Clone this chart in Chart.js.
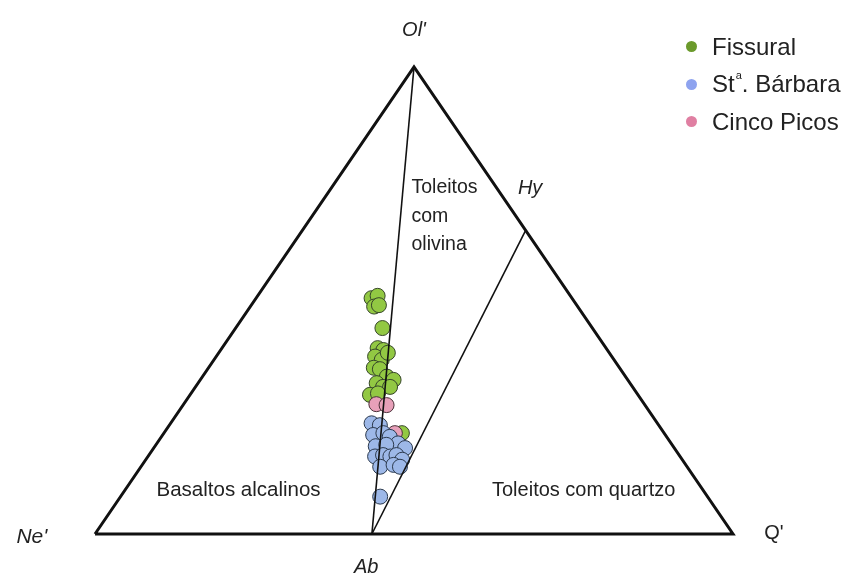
<!DOCTYPE html>
<html lang="pt">
<head>
    <meta charset="UTF-8">
    <title>Diagrama Ne'-Ol'-Q'</title>
    <style>
        body {
            margin: 0;
            background-color: #ffffff;
            font-family: "Liberation Sans", Arial, sans-serif;
        }
        .wrap {
            position: relative;
            width: 850px;
            height: 579px;
        }
        .legend {
            position: absolute;
            left: 686px;
            top: 28px;
            color: #222;
            font-size: 24px;
        }
        .legend div {
            display: flex;
            align-items: center;
            height: 37.5px;
        }
        .legend div span {
            width: 11px;
            height: 11px;
            border-radius: 50%;
            display: inline-block;
            margin-right: 15px;
        }
        .legend sup {
            font-size: 11px;
            position: relative;
            top: -9px;
            margin-left: 1px;
        }
    </style>
    <script src="https://cdn.jsdelivr.net/npm/chart.js"></script>
    <script>
        // normative proportions (%), Ne' = 100 - Ol' - Q'
        const abPoint = { ol: 0, q: 43.4 };
        const hyPoint = { ol: 65, q: 35 };

        const fissuralOl = [50.5, 51.0, 48.7, 49.0, 44.1, 39.8, 39.4, 38.0, 37.3, 38.8, 35.6, 35.3, 33.7, 33.0, 32.3, 31.5, 31.5, 29.8, 30.1, 21.6];
        const fissuralQ  = [18.1, 18.8, 19.4, 20.0, 23.0, 24.4, 25.5, 24.9, 26.3, 26.5, 25.9, 27.0, 28.9, 30.3, 28.0, 29.4, 30.5, 28.2, 29.3, 37.3];

        const cincoPicosOl = [27.8, 27.6, 21.6];
        const cincoPicosQ  = [30.2, 31.9, 36.2];

        const stBarbaraOl = [23.7, 23.3, 21.2, 21.6, 20.8, 19.4, 18.4, 18.8, 19.1, 16.6, 16.9, 16.6, 16.9, 15.9, 14.4, 14.8, 14.4, 8.0];
        const stBarbaraQ  = [31.5, 33.0, 33.0, 34.4, 35.8, 37.8, 39.4, 34.6, 36.1, 35.6, 36.7, 38.0, 38.8, 40.2, 37.5, 39.4, 40.6, 40.7];

        const seriesNames = ['Fissural', 'St<sup>a</sup>. B\u00e1rbara', 'Cinco Picos'];

        // ternary -> cartesian (x along Ne'-Q', y towards Ol')
        function tern(ol, q) {
            return { x: q + ol / 2, y: ol };
        }
        function toPoints(olArr, qArr) {
            return olArr.map((ol, i) => tern(ol, qArr[i]));
        }

        const textLabels = [
            { text: "Ol'", x: 50, y: 107.9, font: 'italic 20px "Liberation Sans"', align: 'center' },
            { text: "Ne'", x: -9.9, y: -0.6, font: 'italic 21px "Liberation Sans"', align: 'center' },
            { text: "Q'", x: 106.4, y: 0.2, font: '20px "Liberation Sans"', align: 'center' },
            { text: 'Ab', x: 42.5, y: -7.1, font: 'italic 20px "Liberation Sans"', align: 'center' },
            { text: 'Hy', x: 68.2, y: 74.1, font: 'italic 20px "Liberation Sans"', align: 'center' },
            { text: 'Toleitos', x: 49.6, y: 74.1, font: '19.5px "Liberation Sans"', align: 'left' },
            { text: 'com', x: 49.6, y: 67.9, font: '19.5px "Liberation Sans"', align: 'left' },
            { text: 'olivina', x: 49.6, y: 61.9, font: '19.5px "Liberation Sans"', align: 'left' },
            { text: 'Basaltos alcalinos', x: 22.5, y: 9.4, font: '20.5px "Liberation Sans"', align: 'center' },
            { text: 'Toleitos com quartzo', x: 76.6, y: 9.4, font: '20px "Liberation Sans"', align: 'center' }
        ];

        const labelPlugin = {
            id: 'labels',
            afterDraw(chart) {
                const ctx = chart.ctx;
                const sx = chart.scales.x, sy = chart.scales.y;
                ctx.save();
                ctx.fillStyle = '#222';
                ctx.textBaseline = 'middle';
                textLabels.forEach(l => {
                    ctx.font = l.font;
                    ctx.textAlign = l.align;
                    ctx.fillText(l.text, sx.getPixelForValue(l.x), sy.getPixelForValue(l.y));
                });
                ctx.restore();
            }
        };

        window.onload = function () {
            const ne = tern(0, 0), ol = tern(100, 0), qq = tern(0, 100);
            const ab = tern(abPoint.ol, abPoint.q), hy = tern(hyPoint.ol, hyPoint.q);

            const lineStyle = { type: 'scatter', showLine: true, pointRadius: 0, borderColor: '#111', fill: false, clip: false, order: 0 };

            new Chart(document.getElementById('ternary'), {
                type: 'scatter',
                data: {
                    datasets: [
                        Object.assign({ label: 'triangle', data: [ne, qq, ol, ne], borderWidth: 3, borderJoinStyle: 'miter' }, lineStyle),
                        Object.assign({ label: 'ab-ol', data: [ab, ol], borderWidth: 1.6 }, lineStyle),
                        Object.assign({ label: 'ab-hy', data: [ab, hy], borderWidth: 1.6 }, lineStyle),
                        {
                            label: 'St. Barbara',
                            data: toPoints(stBarbaraOl, stBarbaraQ),
                            backgroundColor: '#9db8e8',
                            borderColor: '#2c3a4e',
                            borderWidth: 1,
                            pointRadius: 7.5,
                            clip: false,
                            order: 1
                        },
                        {
                            label: 'Cinco Picos',
                            data: toPoints(cincoPicosOl, cincoPicosQ),
                            backgroundColor: '#e7a0b9',
                            borderColor: '#4a3038',
                            borderWidth: 1,
                            pointRadius: 7.5,
                            clip: false,
                            order: 2
                        },
                        {
                            label: 'Fissural',
                            data: toPoints(fissuralOl, fissuralQ),
                            backgroundColor: '#92c843',
                            borderColor: '#36452a',
                            borderWidth: 1,
                            pointRadius: 7.5,
                            clip: false,
                            order: 3
                        }
                    ]
                },
                options: {
                    responsive: false,
                    animation: false,
                    layout: { padding: { left: 95, right: 117, top: 67, bottom: 45 } },
                    scales: {
                        x: { type: 'linear', min: 0, max: 100, display: false },
                        y: { type: 'linear', min: 0, max: 100, display: false }
                    },
                    plugins: {
                        legend: { display: false },
                        tooltip: { enabled: false }
                    }
                },
                plugins: [labelPlugin]
            });

            const colors = ['#6b9a2c', '#8ea3ef', '#e07fa2'];
            document.getElementById('legend').innerHTML = seriesNames
                .map((n, i) => `<div><span style="background-color: ${colors[i]};"></span>${n}</div>`)
                .join('');
        };
    </script>
</head>
<body>
    <div class="wrap">
        <canvas id="ternary" width="850" height="579"></canvas>
        <div class="legend" id="legend"></div>
    </div>
</body>
</html>
